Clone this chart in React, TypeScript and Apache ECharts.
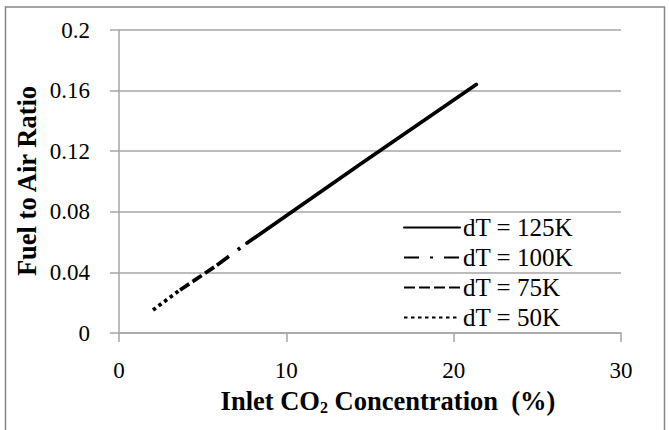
import React, { useEffect, useRef } from "react";
import * as echarts from "echarts";

const seriesNames = ["dT = 125K", "dT = 100K", "dT = 75K", "dT = 50K"];
// CO2 concentration (%) and fuel-to-air ratio for each segment
const co2_125 = [7.65, 14.5, 21.35];
const far_125 = [0.0594, 0.112, 0.164];
const co2_100 = [5.85, 7.65];
const far_100 = [0.0447, 0.0594];
const co2_75 = [3.65, 5.85];
const far_75 = [0.0284, 0.0447];
const co2_50 = [2.03, 3.65];
const far_50 = [0.0152, 0.0284];

const xTicks = [0, 10, 20, 30];
const yTicks = [0, 0.04, 0.08, 0.12, 0.16, 0.2];

const FONT = "Liberation Serif";

function pairs(xs: number[], ys: number[]) {
  return xs.map((x, i) => [x, ys[i]]);
}

export default function App() {
  const ref = useRef<HTMLDivElement>(null);
  useEffect(() => {
    document.body.style.margin = "0";
    if (!ref.current) return;
    const chart = echarts.init(ref.current, undefined, { renderer: "svg" });
    const lineW = 3.7;
    chart.setOption({
      animation: false,
      backgroundColor: "#ffffff",
      textStyle: { fontFamily: FONT },
      grid: { left: 119, right: 48, top: 30, bottom: 97 },
      xAxis: {
        type: "value",
        min: xTicks[0],
        max: xTicks[xTicks.length - 1],
        interval: 10,
        axisLine: { show: true, lineStyle: { color: "#a6a6a6", width: 1.5 } },
        axisTick: { show: true, length: 9, lineStyle: { color: "#a6a6a6", width: 1.5 } },
        splitLine: { show: false },
        axisLabel: { color: "#000", fontSize: 23, fontFamily: FONT, margin: 26 },
      },
      yAxis: {
        type: "value",
        min: yTicks[0],
        max: yTicks[yTicks.length - 1],
        interval: 0.04,
        axisLine: { show: true, lineStyle: { color: "#a6a6a6", width: 1.5 } },
        axisTick: { show: true, length: 9, lineStyle: { color: "#a6a6a6", width: 1.5 } },
        splitLine: { show: true, lineStyle: { color: "#a6a6a6", width: 1.5 } },
        axisLabel: {
          color: "#000",
          fontSize: 23,
          fontFamily: FONT,
          margin: 29,
          formatter: (v: number) => String(Math.round(v * 100) / 100),
        },
      },
      legend: {
        orient: "vertical",
        left: 398,
        top: 210,
        itemWidth: 56,
        itemHeight: 14,
        itemGap: 5,
        data: seriesNames,
        itemStyle: { opacity: 0 },
        textStyle: { color: "#000", fontSize: 25, fontFamily: FONT, padding: [0, 0, 0, -2] },
      },
      graphic: [
        {
          type: "rect",
          shape: { x: 5.5, y: 7, width: 659, height: 430 },
          style: { fill: "none", stroke: "#868686", lineWidth: 1.5 },
          silent: true,
        },
        {
          type: "text",
          x: 27,
          y: 181,
          rotation: Math.PI / 2,
          style: {
            text: "Fuel to Air Ratio",
            font: `bold 26.5px ${FONT}`,
            fill: "#000",
            align: "center",
            verticalAlign: "middle",
          },
        },
        {
          type: "text",
          x: 388,
          y: 401,
          style: {
            text: "{a|Inlet CO}{s|2}{a| Concentration  (%)}",
            align: "center",
            verticalAlign: "middle",
            rich: {
              a: { fontFamily: FONT, fontWeight: "bold", fontSize: 26.5, fill: "#000", color: "#000" },
              s: {
                fontFamily: FONT,
                fontWeight: "bold",
                fontSize: 16,
                fill: "#000",
                color: "#000",
                verticalAlign: "bottom",
                padding: [13, 0, 0, 0],
              },
            },
          },
        },
      ],
      series: [
        {
          name: seriesNames[0],
          type: "line",
          data: pairs(co2_125, far_125),
          showSymbol: false,
          symbol: "none",
          z: 4,
          lineStyle: { color: "#000", width: lineW, type: "solid", cap: "round" },
          itemStyle: { color: "#000" },
        },
        {
          name: seriesNames[1],
          type: "line",
          data: pairs(co2_100, far_100),
          showSymbol: false,
          symbol: "none",
          z: 3,
          lineStyle: { color: "#000", width: lineW, type: [15, 11, 3, 11] },
          itemStyle: { color: "#000" },
        },
        {
          name: seriesNames[2],
          type: "line",
          data: pairs(co2_75, far_75),
          showSymbol: false,
          symbol: "none",
          z: 2,
          lineStyle: { color: "#000", width: lineW, type: [11, 4] },
          itemStyle: { color: "#000" },
        },
        {
          name: seriesNames[3],
          type: "line",
          data: pairs(co2_50, far_50),
          showSymbol: false,
          symbol: "none",
          z: 1,
          lineStyle: { color: "#000", width: lineW, type: [3.5, 3.5] },
          itemStyle: { color: "#000" },
        },
      ],
    });
    return () => chart.dispose();
  }, []);
  return <div ref={ref} style={{ width: 669, height: 430 }} />;
}
